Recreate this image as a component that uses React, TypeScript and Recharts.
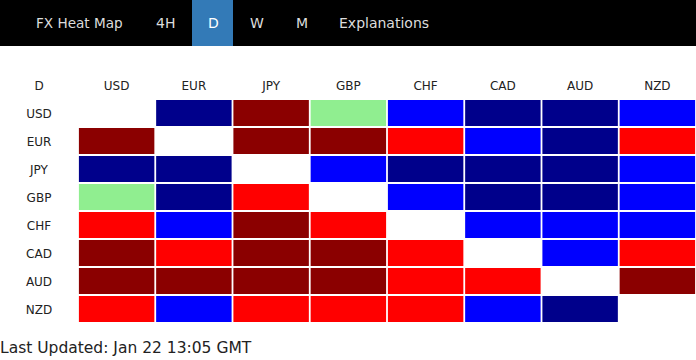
import React from 'react';
import { ScatterChart, Scatter, XAxis, YAxis } from 'recharts';

// currencies (columns and rows, same order)
const currencies = ['USD', 'EUR', 'JPY', 'GBP', 'CHF', 'CAD', 'AUD', 'NZD'];

// strength levels per row: 2 strong up, 1 up, 0 neutral, -1 down, -2 strong down, null = same pair
const usdRow = [null, -2, 2, 0, -1, -2, -2, -1];
const eurRow = [2, null, 2, 2, 1, -1, -2, 1];
const jpyRow = [-2, -2, null, -1, -2, -2, -2, -1];
const gbpRow = [0, -2, 1, null, -1, -2, -2, -1];
const chfRow = [1, -1, 2, 1, null, -1, -1, -1];
const cadRow = [2, 1, 2, 2, 1, null, -1, 1];
const audRow = [2, 2, 2, 2, 1, 1, null, 2];
const nzdRow = [1, -1, 1, 1, 1, -1, -2, null];

const rows = [usdRow, eurRow, jpyRow, gbpRow, chfRow, cadRow, audRow, nzdRow];

const navItems = ['FX Heat Map', '4H', 'D', 'W', 'M', 'Explanations'];
const activeTab = 'D';
const updatedText = 'Last Updated: Jan 22 13:05 GMT';

const LEVEL_COLORS: Record<string, string> = {
  '2': '#8b0000',
  '1': '#ff0000',
  '0': '#90ee90',
  '-1': '#0000ff',
  '-2': '#00008b',
};

const CHART_W = 696;
const LABEL_W = 78;
const HEADER_H = 53;
const ROW_H = 28;
const CHART_H = HEADER_H + ROW_H * currencies.length;
const COL_W = (CHART_W - LABEL_W) / currencies.length;

const cells = rows.flatMap((row, r) =>
  row.map((level, c) => ({ x: currencies[c], y: currencies[r], level }))
);

const HeatCell = (props: any) => {
  const { cx, cy, payload } = props;
  if (payload.level === null || payload.level === undefined) return <g />;
  const w = COL_W - 1.8;
  const h = ROW_H - 2;
  return <rect x={cx - w / 2} y={cy - h / 2} width={w} height={h} fill={LEVEL_COLORS[String(payload.level)]} />;
};

const RowTick = (props: any) => {
  const { x, y, payload } = props;
  return (
    <text x={x - LABEL_W / 2} y={y} dy={4.5} textAnchor="middle" fill="#222" fontSize={12}>
      {payload.value}
    </text>
  );
};

// nav text left edges & active tab box
const navLeft = [36, 156, 208, 250, 296, 339];

export default function App() {
  const font = '"DejaVu Sans", Verdana, sans-serif';
  return (
    <div style={{ position: 'relative', width: 696, height: 360, fontFamily: font, background: '#fff', overflow: 'hidden' }}>
      <style>{'body{margin:0}'}</style>
      <div style={{ position: 'absolute', left: 0, top: 0, width: 696, height: 46, background: '#000' }}>
        <div style={{ position: 'absolute', left: 192, top: 0, width: 41, height: 46, background: '#337ab7' }} />
        {navItems.map((t, i) => (
          <div
            key={t}
            style={{
              position: 'absolute',
              left: navLeft[i],
              top: 0,
              lineHeight: '47px',
              fontSize: i === 0 ? 13.6 : 14,
              color: t === activeTab ? '#fff' : '#ddd',
              whiteSpace: 'nowrap',
            }}
          >
            {t}
          </div>
        ))}
      </div>

      <div style={{ position: 'absolute', left: 0, top: 78, width: LABEL_W, textAlign: 'center', fontSize: 12, color: '#222', lineHeight: '16px' }}>
        D
      </div>

      <div style={{ position: 'absolute', left: 0, top: 46 }}>
        <ScatterChart width={CHART_W} height={CHART_H} margin={{ top: 0, right: 0, bottom: 0, left: 0 }}>
          <XAxis
            type="category"
            dataKey="x"
            orientation="top"
            allowDuplicatedCategory={false}
            height={HEADER_H}
            axisLine={false}
            tickLine={false}
            tickSize={0}
            tickMargin={9}
            interval={0}
            tick={{ fill: '#222', fontSize: 12, fontFamily: font }}
          />
          <YAxis
            type="category"
            dataKey="y"
            reversed
            allowDuplicatedCategory={false}
            width={LABEL_W}
            axisLine={false}
            tickLine={false}
            tickSize={0}
            tickMargin={0}
            interval={0}
            tick={<RowTick />}
          />
          <Scatter data={cells} shape={<HeatCell />} isAnimationActive={false} />
        </ScatterChart>
      </div>

      <div style={{ position: 'absolute', left: 0, top: 338, fontSize: 15.5, color: '#222', lineHeight: '20px', whiteSpace: 'nowrap' }}>
        {updatedText}
      </div>
    </div>
  );
}
